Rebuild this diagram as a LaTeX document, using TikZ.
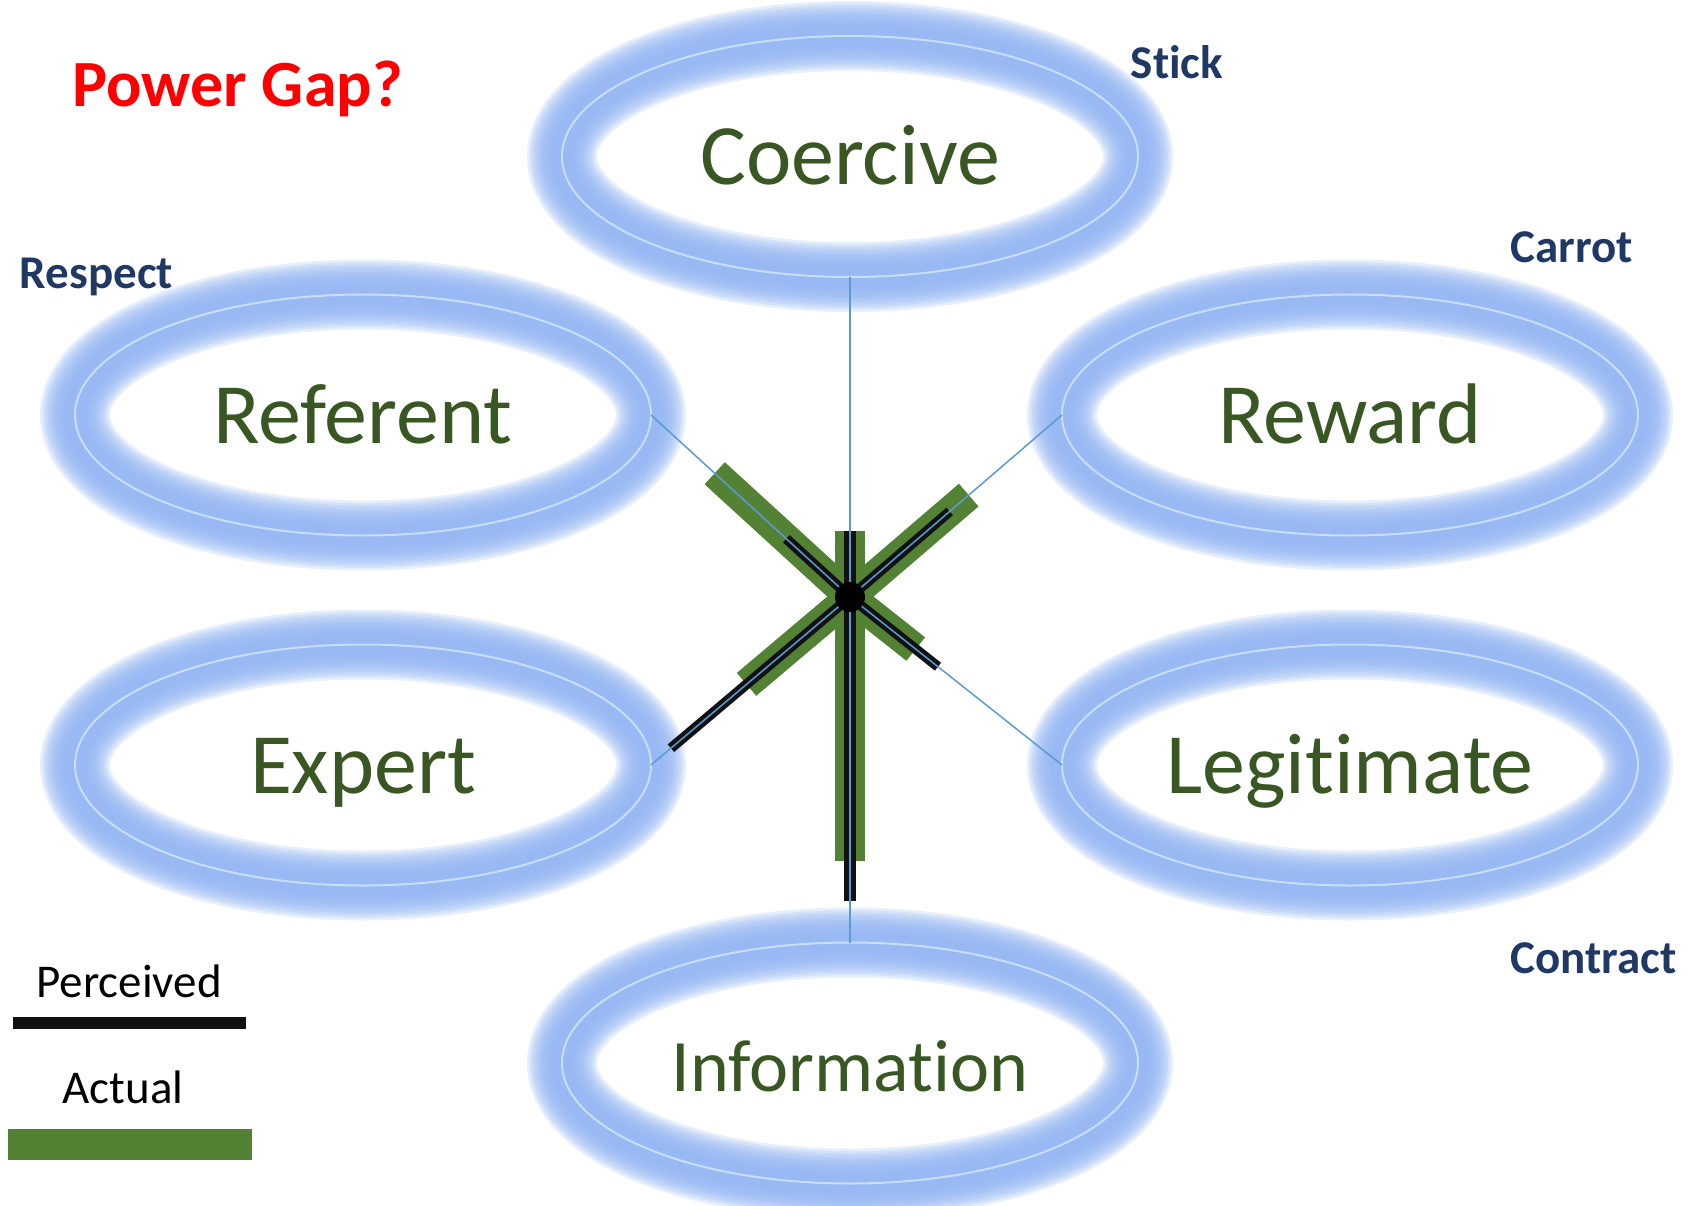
\documentclass[tikz,border=0pt]{standalone}
\usepackage{fontspec}
\setmainfont{Carlito}[Ligatures=NoCommon]
\usetikzlibrary{shapes.geometric,calc}

\definecolor{glowblue}{RGB}{147,183,244}
\definecolor{ringline}{RGB}{200,222,242}
\definecolor{spokeblue}{RGB}{91,155,213}
\definecolor{actualgreen}{RGB}{84,130,53}
\definecolor{wordgreen}{RGB}{56,87,35}
\definecolor{tagnavy}{RGB}{31,56,100}
\definecolor{barblack}{RGB}{17,17,17}

\tikzset{
  glowlayer/.style={preaction={draw=glowblue, draw opacity=0.22, line width=#1}},
  powerring/.style={
    ellipse, minimum width=576pt, minimum height=241pt,
    inner sep=0pt, outer sep=0pt,
    draw=ringline, line width=2pt,
    text=wordgreen, font=\fontsize{86}{100}\selectfont,
    text height=57pt, text depth=0pt,
    glowlayer=70pt, glowlayer=65pt, glowlayer=60pt, glowlayer=55pt,
    glowlayer=50pt, glowlayer=45pt, glowlayer=40pt, glowlayer=35pt,
    glowlayer=30pt, glowlayer=25pt, glowlayer=20pt
  },
  spoke/.style={draw=spokeblue, line width=1.5pt},
  actualbar/.style={draw=actualgreen, line width=30pt, line cap=butt},
  perceivedbar/.style={draw=barblack, line width=10pt, line cap=butt},
  perceivedstem/.style={draw=barblack, line width=12pt, line cap=butt},
  tag/.style={text=tagnavy, font=\bfseries\fontsize{47}{56}\selectfont, anchor=base, inner sep=0pt},
  legendtext/.style={text=black, font=\fontsize{47}{56}\selectfont, anchor=base, inner sep=0pt},
  hubdot/.style={circle, fill=black, minimum size=30pt, inner sep=0pt}
}

\begin{document}
\begin{tikzpicture}[x=1pt, y=-1pt]
  \useasboundingbox[fill=white] (0,0) rectangle (1689,1206);

  % the six bases of power
  \node[powerring] (coer) at (850,156.5) {Coercive};
  \node[powerring] (ref)  at (363,415)   {Referent};
  \node[powerring] (rew)  at (1350,415)  {Reward};
  \node[powerring] (exp)  at (363,765)   {Expert};
  \node[powerring] (leg)  at (1350,765)  {Legitimate};
  \node[powerring, font=\fontsize{74}{88}\selectfont] (info) at (850,1063) {Information};

  \coordinate (hub) at (850,597);

  % actual strength along each spoke
  \draw[actualbar] (hub) -- ($(hub)!0.206!(coer.south)$);
  \draw[actualbar] (hub) -- ($(hub)!0.763!(info.north)$);
  \draw[actualbar] (hub) -- ($(hub)!0.68!(ref.east)$);
  \draw[actualbar] (hub) -- ($(hub)!0.56!(rew.west)$);
  \draw[actualbar] (hub) -- ($(hub)!0.52!(exp.east)$);
  \draw[actualbar] (hub) -- ($(hub)!0.31!(leg.west)$);

  % perceived strength along each spoke
  \draw[perceivedstem] (hub) -- ($(hub)!0.206!(coer.south)$);
  \draw[perceivedstem] (hub) -- ($(hub)!0.88!(info.north)$);
  \draw[perceivedbar] (hub) -- ($(hub)!0.32!(ref.east)$);
  \draw[perceivedbar] (hub) -- ($(hub)!0.47!(rew.west)$);
  \draw[perceivedbar] (hub) -- ($(hub)!0.90!(exp.east)$);
  \draw[perceivedbar] (hub) -- ($(hub)!0.415!(leg.west)$);

  % spokes from the hub to each base
  \draw[spoke] (hub) -- (coer.south);
  \draw[spoke] (hub) -- (info.north);
  \draw[spoke] (hub) -- (ref.east);
  \draw[spoke] (hub) -- (rew.west);
  \draw[spoke] (hub) -- (exp.east);
  \draw[spoke] (hub) -- (leg.west);

  \node[hubdot] (dot) at (hub) {};

  % title and side tags
  \node[anchor=base, inner sep=0pt, text=red, font=\bfseries\fontsize{66}{78}\selectfont] (title) at (237.5,107) {Power Gap?};
  \node[tag] (stick)    at (1177,79)    {Stick};
  \node[tag] (carrot)   at (1572,263)   {Carrot};
  \node[tag] (respect)  at (96.5,289)   {Respect};
  \node[tag] (contract) at (1593.5,973) {Contract};

  % legend
  \node[legendtext] (perclabel) at (129,997) {Perceived};
  \node[rectangle, fill=barblack, inner sep=0pt, minimum width=233pt, minimum height=12pt] (percbar) at (129.5,1023) {};
  \node[legendtext] (actlabel) at (123,1103) {Actual};
  \node[rectangle, fill=actualgreen, inner sep=0pt, minimum width=244pt, minimum height=31pt] (actbar) at (129.5,1144.5) {};
\end{tikzpicture}
\end{document}
